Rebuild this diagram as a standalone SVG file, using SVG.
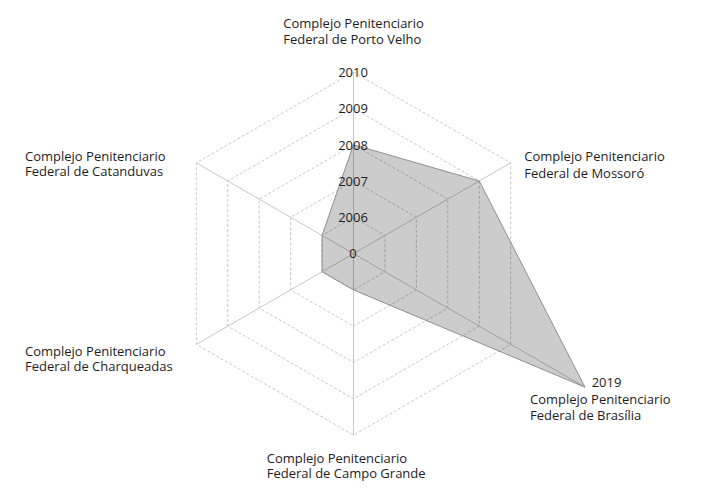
<svg xmlns="http://www.w3.org/2000/svg" width="703" height="500" viewBox="0 0 703 500">
<style>
.bg{fill:#ffffff}
.ring{fill:none;stroke:#b9b9b9;stroke-width:0.8;stroke-dasharray:3 2}
.axis{fill:none;stroke:#c6c6c6;stroke-width:1}
.data{fill:#000000;fill-opacity:0.2;stroke:#8f8f8f;stroke-width:1;stroke-linejoin:round}
.lbl{font-family:"Open Sans","Noto Sans","DejaVu Sans",sans-serif;font-size:13px;fill:#1f1c1d}
.tick{font-family:"Open Sans","Noto Sans","DejaVu Sans",sans-serif;font-size:13px;fill:#1f1c1d;text-anchor:middle}
</style>
<rect class="bg" x="0" y="0" width="703" height="500"/>
<g id="grid">
<polygon class="ring" points="353.5,217.3 384.94,235.45 384.94,271.75 353.5,289.9 322.06,271.75 322.06,235.45"/>
<polygon class="ring" points="353.5,181 416.37,217.3 416.37,289.9 353.5,326.2 290.63,289.9 290.63,217.3"/>
<polygon class="ring" points="353.5,144.7 447.81,199.15 447.81,308.05 353.5,362.5 259.19,308.05 259.19,199.15"/>
<polygon class="ring" points="353.5,108.4 479.25,181 479.25,326.2 353.5,398.8 227.75,326.2 227.75,181"/>
<polygon class="ring" points="353.5,72.1 510.68,162.85 510.68,344.35 353.5,435.1 196.32,344.35 196.32,162.85"/>
</g>
<g id="connectors">
<line class="axis" x1="353.5" y1="253.6" x2="353.5" y2="72.1"/>
<line class="axis" x1="353.5" y1="253.6" x2="510.68" y2="162.85"/>
<line class="axis" x1="353.5" y1="253.6" x2="585" y2="387.2"/>
<line class="axis" x1="353.5" y1="253.6" x2="353.5" y2="435.1"/>
<line class="axis" x1="353.5" y1="253.6" x2="196.32" y2="344.35"/>
<line class="axis" x1="353.5" y1="253.6" x2="196.32" y2="162.85"/>
</g>
<g id="series">
<polygon class="data" points="353.5,144.7 479.25,181 585,387.2 353.5,289.9 322.06,271.75 322.06,235.45"/>
</g>
<g id="scale">
<text class="tick" x="353" y="76.7">2010</text>
<text class="tick" x="353" y="113.2">2009</text>
<text class="tick" x="353" y="149.5">2008</text>
<text class="tick" x="353" y="185.8">2007</text>
<text class="tick" x="353" y="222">2006</text>
<text class="tick" x="353" y="258.3">0</text>
</g>
<g id="node-porto-velho">
<text class="lbl" x="283.3" y="28.3">Complejo Penitenciario</text>
<text class="lbl" x="283.3" y="44.3">Federal de Porto Velho</text>
</g>
<g id="node-mossoro">
<text class="lbl" x="524.3" y="161">Complejo Penitenciario</text>
<text class="lbl" x="524.3" y="177.5">Federal de Mossoró</text>
</g>
<g id="node-brasilia">
<text class="lbl" x="591.7" y="386.7">2019</text>
<text class="lbl" x="530" y="404">Complejo Penitenciario</text>
<text class="lbl" x="530" y="420.3">Federal de Brasília</text>
</g>
<g id="node-campo-grande">
<text class="lbl" x="266.7" y="462.7">Complejo Penitenciario</text>
<text class="lbl" x="266.7" y="478">Federal de Campo Grande</text>
</g>
<g id="node-charqueadas">
<text class="lbl" x="25" y="355.7">Complejo Penitenciario</text>
<text class="lbl" x="25" y="371.3">Federal de Charqueadas</text>
</g>
<g id="node-catanduvas">
<text class="lbl" x="25" y="160.7">Complejo Penitenciario</text>
<text class="lbl" x="25" y="176.3">Federal de Catanduvas</text>
</g>
</svg>
